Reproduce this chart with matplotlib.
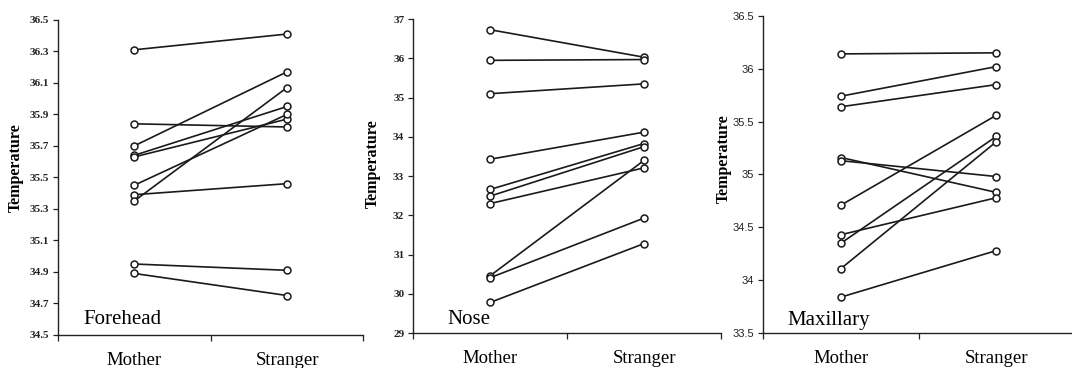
import matplotlib
matplotlib.use("Agg")
import matplotlib.pyplot as plt
from matplotlib.ticker import FormatStrFormatter

plt.rcParams['font.family'] = ['Liberation Serif', 'DejaVu Serif']

conditions = ["Mother", "Stranger"]

# temperature per subject, mother vs stranger
forehead_mother = [36.31, 35.84, 35.70, 35.64, 35.63, 35.45, 35.39, 35.35, 34.95, 34.89]
forehead_stranger = [36.41, 35.82, 36.17, 35.95, 35.87, 35.90, 35.46, 36.07, 34.91, 34.75]

nose_mother = [36.73, 35.95, 35.10, 33.43, 32.66, 32.49, 32.30, 30.46, 30.41, 29.78]
nose_stranger = [36.03, 35.97, 35.35, 34.12, 33.83, 33.75, 33.21, 33.40, 31.93, 31.28]

maxillary_mother = [36.14, 35.74, 35.64, 35.16, 35.13, 34.71, 34.43, 34.35, 34.11, 33.84]
maxillary_stranger = [36.15, 36.02, 35.85, 34.83, 34.98, 35.56, 34.78, 35.36, 35.31, 34.28]

panels = [
    ("Forehead", forehead_mother, forehead_stranger, (34.5, 36.5), 0.2, '%.1f'),
    ("Nose", nose_mother, nose_stranger, (29, 37), 1, '%g'),
    ("Maxillary", maxillary_mother, maxillary_stranger, (33.5, 36.5), 0.5, '%g'),
]

# axes boxes (left, bottom, width, height) in figure fractions
boxes = [
    (0.054, 0.090, 0.285, 0.856),
    (0.3855, 0.095, 0.287, 0.853),
    (0.712, 0.095, 0.290, 0.862),
]
name_pos = [(0.082, 0.035), (0.11, 0.03), (0.076, 0.025)]
ylab_pos = [(-0.137, 0.53), (-0.13, 0.54), (-0.128, 0.55)]
# the third panel uses a sans face for its tick numbers
tick_fonts = [('Liberation Serif', 'bold'), ('Liberation Serif', 'bold'), ('Liberation Sans', 'normal')]

fig = plt.figure(figsize=(10.72, 3.68), dpi=100)

for i, (name, mother, stranger, ylim, step, fmt) in enumerate(panels):
    ax = fig.add_axes(boxes[i])
    for m, s in zip(mother, stranger):
        ax.plot([1, 2], [m, s], color='#1a1a1a', lw=1.2, marker='o', ms=5,
                mfc='white', mec='#1a1a1a', mew=1.1, clip_on=False)

    ax.set_xlim(0.5, 2.5)
    ax.set_ylim(*ylim)
    n = int(round((ylim[1] - ylim[0]) / step))
    ax.set_yticks([ylim[0] + k * step for k in range(n + 1)])
    ax.yaxis.set_major_formatter(FormatStrFormatter(fmt))
    ax.tick_params(axis='y', labelsize=8, length=3.5, width=0.9, pad=3, colors='#222222')
    for lab in ax.get_yticklabels():
        lab.set_fontfamily(tick_fonts[i][0])
        lab.set_fontweight(tick_fonts[i][1])

    # tick marks between categories, labels centred on categories
    ax.set_xticks([0.5, 1.5, 2.5])
    ax.set_xticklabels([])
    ax.set_xticks([1, 2], minor=True)
    ax.set_xticklabels(conditions, minor=True, fontsize=13.5)
    ax.tick_params(axis='x', which='major', length=4, width=0.9, colors='#222222')
    ax.tick_params(axis='x', which='minor', length=0, pad=12)

    for side in ['top', 'right']:
        ax.spines[side].set_visible(False)
    for side in ['left', 'bottom']:
        ax.spines[side].set_linewidth(1.0)
        ax.spines[side].set_color('#222222')

    ax.text(name_pos[i][0], name_pos[i][1], name, transform=ax.transAxes,
            fontsize=15, ha='left', va='baseline')
    ax.text(ylab_pos[i][0], ylab_pos[i][1], "Temperature", transform=ax.transAxes,
            rotation=90, fontsize=11.5, fontweight='bold', ha='center', va='center')

plt.savefig("out.png", dpi=100)
